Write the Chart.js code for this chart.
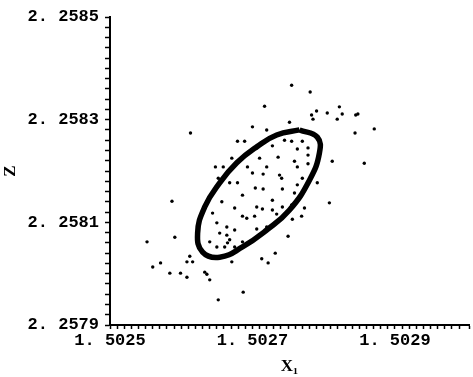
<!DOCTYPE html>
<html>
<head>
<meta charset="utf-8">
<script src="https://cdn.jsdelivr.net/npm/chart.js@4.4.1/dist/chart.umd.min.js"></script>
<style>
    html, body { margin: 0; padding: 0; background: #ffffff; }
    #grafico { display: block; }
</style>
</head>
<body>
<canvas id="grafico" width="473" height="377"></canvas>
<script>
// limites e rotulos dos eixos
const limitesX = [1.5025, 1.503004];
const limitesY = [2.2579, 2.2585];
const rotuloX = 'X\u2081';
const rotuloY = 'Z';

// contorno da elipse (fechado no primeiro ponto)
const elipseX = [1.502766, 1.502791, 1.502794, 1.502780, 1.502752, 1.502720, 1.502686, 1.502654,
    1.502630, 1.502623, 1.502633, 1.502654, 1.502678, 1.502706, 1.502734, 1.502766];
const elipseY = [2.258280, 2.258266, 2.258235, 2.258182, 2.258124, 2.258085, 2.258052, 2.258032,
    2.258042, 2.258079, 2.258130, 2.258177, 2.258216, 2.258247, 2.258270, 2.258280];

// pontos amostrados
const pontosX = [
    1.502755, 1.502781, 1.502717, 1.502613, 1.502700, 1.502720, 1.502679, 1.502689, 1.502790, 1.502805,
    1.502783, 1.502785, 1.502822, 1.502826, 1.502819, 1.502845, 1.502848, 1.502752, 1.502871, 1.502844,
    1.502812, 1.502857, 1.502791, 1.502808, 1.502773, 1.502769, 1.502756, 1.502750, 1.502732, 1.502713,
    1.502722, 1.502671, 1.502648, 1.502659, 1.502652, 1.502587, 1.502636, 1.502591, 1.502552, 1.502612,
    1.502608, 1.502616, 1.502560, 1.502571, 1.502584, 1.502599, 1.502608, 1.502633, 1.502636, 1.502640,
    1.502671, 1.502687, 1.502652,
    1.502745, 1.502755, 1.502770, 1.502728, 1.502763, 1.502778, 1.502710, 1.502736, 1.502759, 1.502778,
    1.502763, 1.502778, 1.502693, 1.502720, 1.502700, 1.502715, 1.502738, 1.502741, 1.502770, 1.502679,
    1.502668, 1.502704, 1.502715, 1.502742, 1.502763, 1.502759, 1.502686, 1.502728, 1.502742, 1.502755,
    1.502657, 1.502675, 1.502706, 1.502714, 1.502686, 1.502692, 1.502703, 1.502728, 1.502734, 1.502644,
    1.502650, 1.502664, 1.502675, 1.502706, 1.502720, 1.502654, 1.502664, 1.502668, 1.502686, 1.502665,
    1.502640, 1.502650, 1.502661, 1.502675
];
const pontosY = [
    2.258367, 2.258354, 2.258326, 2.258274, 2.258286, 2.258280, 2.258258, 2.258258, 2.258317, 2.258313,
    2.258309, 2.258301, 2.258325, 2.258311, 2.258301, 2.258309, 2.258311, 2.258295, 2.258282, 2.258274,
    2.258219, 2.258215, 2.258177, 2.258138, 2.258128, 2.258112, 2.258106, 2.258073, 2.258040, 2.258029,
    2.258021, 2.258225, 2.258208, 2.258208, 2.258186, 2.258141, 2.258140, 2.258071, 2.258062, 2.258034,
    2.258023, 2.258023, 2.258013, 2.258021, 2.258001, 2.258001, 2.257993, 2.258003, 2.257999, 2.257988,
    2.258023, 2.257964, 2.257949,
    2.258260, 2.258258, 2.258258, 2.258249, 2.258243, 2.258245, 2.258225, 2.258227, 2.258219, 2.258231,
    2.258208, 2.258214, 2.258208, 2.258208, 2.258196, 2.258194, 2.258192, 2.258186, 2.258186, 2.258177,
    2.258177, 2.258167, 2.258165, 2.258165, 2.258173, 2.258157, 2.258153, 2.258143, 2.258130, 2.258134,
    2.258140, 2.258128, 2.258130, 2.258126, 2.258112, 2.258108, 2.258112, 2.258124, 2.258116, 2.258118,
    2.258099, 2.258091, 2.258085, 2.258087, 2.258091, 2.258079, 2.258075, 2.258066, 2.258062, 2.258060,
    2.258062, 2.258052, 2.258052, 2.258052
];

const fonteEixo = { family: '"Liberation Mono", "DejaVu Sans Mono", monospace', size: 17, weight: 'bold' };
const fonteTitulo = { family: '"Liberation Serif", "DejaVu Serif", serif', size: 17, weight: 'bold' };

function juntarPontos(xs, ys) {
    return xs.map((x, i) => ({ x, y: ys[i] }));
}

// mostra rotulo so nos valores principais (1.5025, 1.5027, ... / 2.2579, 2.2581, ...)
function formatarRotulo(valor) {
    const k = Math.round(valor * 1e5);
    if (k % 20 !== 10) {
        return '';
    }
    const texto = (k / 1e5).toFixed(4);
    return texto.replace('.', '. ');
}

const contexto = document.getElementById('grafico');

new Chart(contexto, {
    type: 'scatter',
    data: {
        datasets: [{
            label: 'elipse',
            data: juntarPontos(elipseX, elipseY),
            showLine: true,
            borderColor: '#000000',
            borderWidth: 5.5,
            tension: 0.45,
            pointRadius: 0,
            fill: false
        }, {
            label: 'pontos',
            data: juntarPontos(pontosX, pontosY),
            backgroundColor: '#000000',
            borderColor: '#000000',
            pointRadius: 1.7,
            borderWidth: 0
        }]
    },
    options: {
        responsive: false,
        animation: false,
        layout: {
            padding: { top: 17, right: 0, bottom: 0, left: 0 }
        },
        plugins: {
            legend: { display: false },
            tooltip: { enabled: false }
        },
        scales: {
            x: {
                type: 'linear',
                min: limitesX[0],
                max: limitesX[1],
                afterFit(escala) {
                    escala.height = 52;
                },
                border: { color: '#000000', width: 2 },
                grid: {
                    drawOnChartArea: false,
                    color: '#000000',
                    tickLength: 4,
                    tickWidth: 1.5
                },
                ticks: {
                    stepSize: 0.00001,
                    autoSkip: false,
                    maxRotation: 0,
                    color: '#000000',
                    font: fonteEixo,
                    padding: 2,
                    callback: formatarRotulo
                },
                title: {
                    display: true,
                    text: rotuloX,
                    color: '#000000',
                    font: fonteTitulo,
                    padding: { top: 0, bottom: 0 }
                }
            },
            y: {
                type: 'linear',
                min: limitesY[0],
                max: limitesY[1],
                afterFit(escala) {
                    escala.width = 110;
                },
                border: { color: '#000000', width: 2 },
                grid: {
                    drawOnChartArea: false,
                    color: '#000000',
                    tickLength: 5,
                    tickWidth: 1.5
                },
                ticks: {
                    stepSize: 0.00002,
                    autoSkip: false,
                    color: '#000000',
                    font: fonteEixo,
                    padding: 6,
                    callback: formatarRotulo
                },
                title: {
                    display: true,
                    text: rotuloY,
                    color: '#000000',
                    font: fonteTitulo,
                    padding: { top: 0, bottom: 0 }
                }
            }
        }
    }
});
</script>
</body>
</html>
